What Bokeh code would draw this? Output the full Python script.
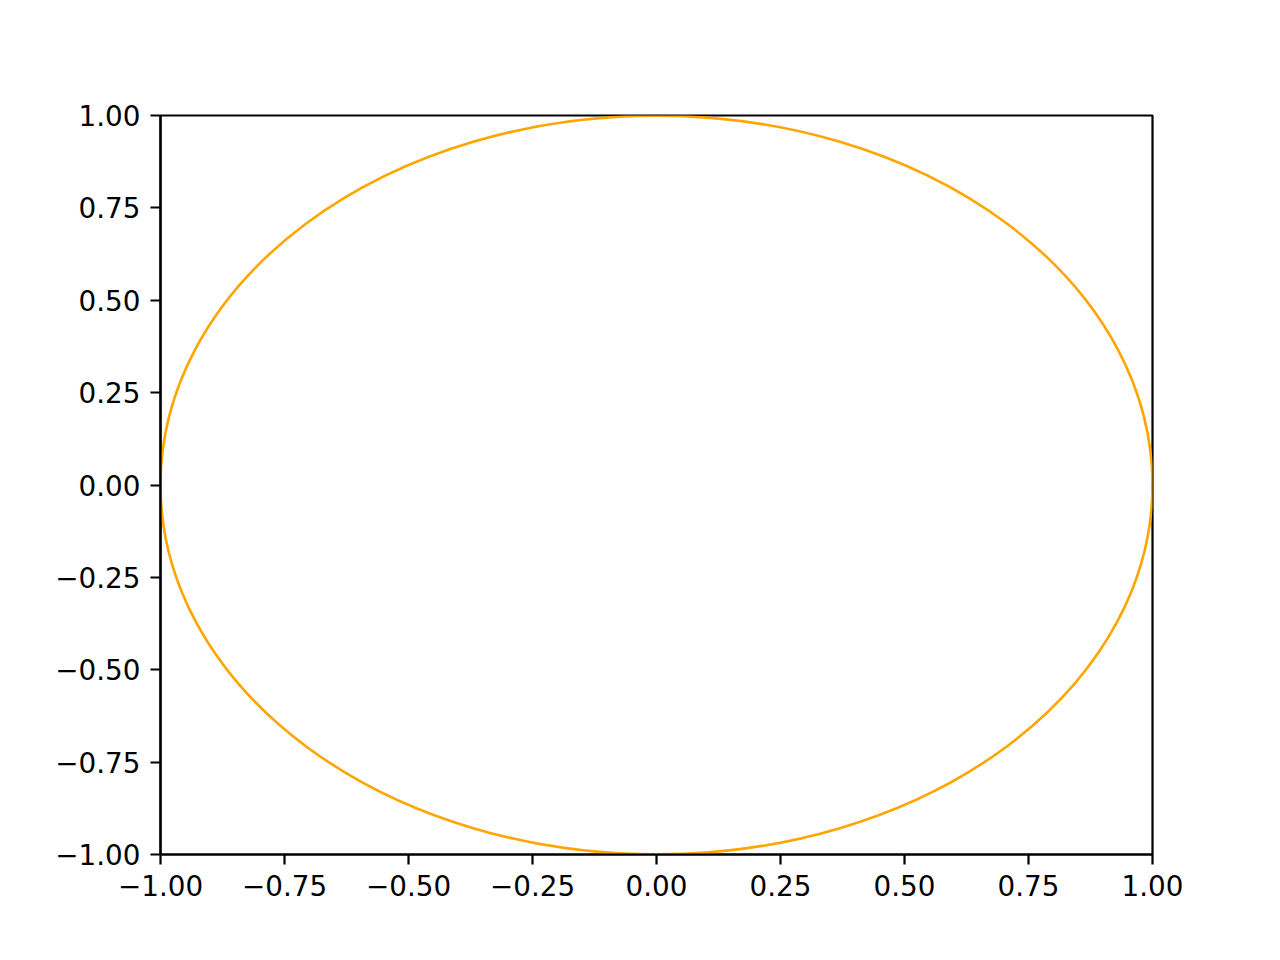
from bokeh.plotting import figure
from bokeh.models import Range1d, FixedTicker
from bokeh.embed import file_html
from bokeh.resources import INLINE

# Data
circle_x = [0.0]
circle_y = [0.0]
circle_width = [2.0]
circle_height = [2.0]

tick_values = [-1.0, -0.75, -0.5, -0.25, 0.0, 0.25, 0.5, 0.75, 1.0]
tick_labels = ["\u22121.00", "\u22120.75", "\u22120.50", "\u22120.25", "0.00",
               "0.25", "0.50", "0.75", "1.00"]

p = figure(width=1280, height=960, output_backend="svg", toolbar_location=None,
           x_range=Range1d(-1, 1), y_range=Range1d(-1, 1),
           min_border_left=160, min_border_right=128,
           min_border_top=115, min_border_bottom=106)

p.ellipse(x=circle_x, y=circle_y, width=circle_width, height=circle_height,
          fill_alpha=0, line_color="#FFA500", line_width=2.6)

p.xgrid.visible = False
p.ygrid.visible = False
p.background_fill_color = "white"
p.border_fill_color = "white"
p.outline_line_color = "black"
p.outline_line_width = 2.2

overrides = {v: l for v, l in zip(tick_values, tick_labels)}
for ax in (p.xaxis[0], p.yaxis[0]):
    ax.ticker = FixedTicker(ticks=tick_values)
    ax.major_label_overrides = overrides
    ax.major_tick_out = 10
    ax.major_tick_in = 0
    ax.minor_tick_out = 0
    ax.minor_tick_in = 0
    ax.major_tick_line_width = 2.2
    ax.major_tick_line_color = "black"
    ax.axis_line_width = 2.2
    ax.axis_line_color = "black"
    ax.major_label_standoff = 10
    ax.major_label_text_font = "DejaVu Sans"
    ax.major_label_text_font_size = "27.8px"
    ax.major_label_text_color = "black"

open("out.html", "w").write(file_html(p, INLINE))
